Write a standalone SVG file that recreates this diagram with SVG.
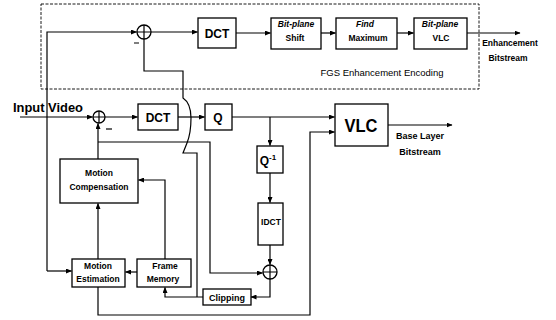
<svg xmlns="http://www.w3.org/2000/svg" width="556" height="320" viewBox="0 0 556 320">
<style>
.b{fill:#fff;stroke:#000;stroke-width:1.3}
.l{fill:none;stroke:#000;stroke-width:1.2}
.t{font-family:"Liberation Sans",Arial,sans-serif;font-weight:bold;fill:#000;text-anchor:middle}
.n{font-family:"Liberation Sans",Arial,sans-serif;fill:#000;text-anchor:middle}
.s{text-anchor:start}
.i{font-style:italic}
</style>
<defs>
<marker id="a" markerWidth="6" markerHeight="5" refX="5.5" refY="2.5" orient="auto" markerUnits="userSpaceOnUse">
<path d="M0,0 L6,2.5 L0,5 z" fill="#000"/>
</marker>
</defs>
<rect x="41" y="4" width="438" height="85" fill="none" stroke="#000" stroke-width="0.9" stroke-dasharray="3 1.5"/>
<g id="connectors" class="l">
<path d="M47,271 V32 H136.5" marker-end="url(#a)"/>
<path d="M47,271 H71.5" marker-end="url(#a)"/>
<path d="M151,32 H197.5" marker-end="url(#a)"/>
<path d="M236,33 H270.5" marker-end="url(#a)"/>
<path d="M321,33 H335.5" marker-end="url(#a)"/>
<path d="M397,33 H413.5" marker-end="url(#a)"/>
<path d="M467,33 H520" marker-end="url(#a)"/>
<path d="M144,39 V71 H183 V98 C189,102 191,110 191,118 C191,128 189,138 187,143 L183,153 H197 V297"/>
<path d="M20,117 H92.5" marker-end="url(#a)"/>
<path d="M105,117 H137.5" marker-end="url(#a)"/>
<path d="M178,117 H204.5" marker-end="url(#a)"/>
<path d="M232,117 H334.5" marker-end="url(#a)"/>
<path d="M270,117 V145.5" marker-end="url(#a)"/>
<path d="M270,173 V202.5" marker-end="url(#a)"/>
<path d="M270,245 V264.5" marker-end="url(#a)"/>
<path d="M270,279 V297 H251" marker-end="url(#a)"/>
<path d="M203,297 H165 V287.5" marker-end="url(#a)"/>
<path d="M98,159 V123.5" marker-end="url(#a)"/>
<path d="M98,142 H210 V273 H262.5" marker-end="url(#a)"/>
<path d="M98,259 V203.5" marker-end="url(#a)"/>
<path d="M165,259 V180 H138.5" marker-end="url(#a)"/>
<path d="M137,272 H125.5" marker-end="url(#a)"/>
<path d="M98,287 V315 H310 V132 H334.5" marker-end="url(#a)"/>
<path d="M388,125 H452" marker-end="url(#a)"/>
</g>
<g id="sum-top"><circle class="b" cx="144" cy="32" r="7"/><path class="l" d="M137,32 H151 M144,25 V39 M134,43 H139"/></g>
<g id="dct-top"><rect class="b" x="198" y="18" width="38" height="30"/><text class="t" x="217" y="38" font-size="12">DCT</text></g>
<g id="shift"><rect class="b" x="271" y="18" width="50" height="31"/><text class="t i" x="296" y="27" font-size="8.5">Bit-plane</text><text class="t" x="295" y="41" font-size="8.5">Shift</text></g>
<g id="findmax"><rect class="b" x="336" y="18" width="61" height="31"/><text class="t i" x="365" y="27" font-size="8.5">Find</text><text class="t" x="368" y="41" font-size="8.5">Maximum</text></g>
<g id="bpvlc"><rect class="b" x="414" y="18" width="53" height="31"/><text class="t i" x="440" y="27" font-size="8.5">Bit-plane</text><text class="t" x="441" y="41" font-size="8.5">VLC</text></g>
<text class="n" x="510" y="46" font-size="8.5" font-weight="bold">Enhancement</text>
<text class="n" x="508" y="61" font-size="8.5" font-weight="bold">Bitstream</text>
<text class="n" x="382" y="76" font-size="9.5">FGS Enhancement Encoding</text>
<text class="t s" x="13" y="112" font-size="13" textLength="70" lengthAdjust="spacingAndGlyphs">Input Video</text>
<g id="sum-in"><circle class="b" cx="99" cy="117" r="6"/><path class="l" d="M93,117 H105 M99,111 V123"/><path class="l" d="M106,129 H112"/></g>
<g id="dct"><rect class="b" x="138" y="104" width="40" height="26"/><text class="t" x="158" y="122" font-size="12">DCT</text></g>
<g id="q"><rect class="b" x="205" y="104" width="27" height="26"/><text class="t" x="218" y="122" font-size="12">Q</text></g>
<g id="vlc"><rect class="b" x="335" y="104" width="53" height="42"/><text class="t" x="361" y="132" font-size="19" textLength="33" lengthAdjust="spacingAndGlyphs">VLC</text></g>
<text class="t" x="420" y="139" font-size="9">Base Layer</text>
<text class="t" x="420" y="155" font-size="9">Bitstream</text>
<g id="qinv"><rect class="b" x="257" y="146" width="26" height="27"/><text class="t" x="268" y="165" font-size="12">Q<tspan font-size="8" dy="-5">-1</tspan></text></g>
<g id="idct"><rect class="b" x="258" y="203" width="25" height="42"/><text class="t" x="271" y="225" font-size="8.5">IDCT</text></g>
<g id="sum-bot"><circle class="b" cx="270" cy="272" r="7"/><path class="l" d="M263,272 H277 M270,265 V279"/></g>
<g id="clip"><rect class="b" x="203" y="289" width="48" height="16"/><text class="t" x="227" y="300.5" font-size="9">Clipping</text></g>
<g id="mc"><rect class="b" x="60" y="159" width="78" height="44"/><text class="t" x="99" y="176" font-size="8.5">Motion</text><text class="t" x="99" y="190" font-size="8.5">Compensation</text></g>
<g id="me"><rect class="b" x="72" y="259" width="53" height="28"/><text class="t" x="98" y="269" font-size="8.5">Motion</text><text class="t" x="98" y="282" font-size="8.5">Estimation</text></g>
<g id="fm"><rect class="b" x="137" y="259" width="54" height="28"/><text class="t" x="165" y="269" font-size="8.5">Frame</text><text class="t" x="163" y="282" font-size="8.5">Memory</text></g>
</svg>
